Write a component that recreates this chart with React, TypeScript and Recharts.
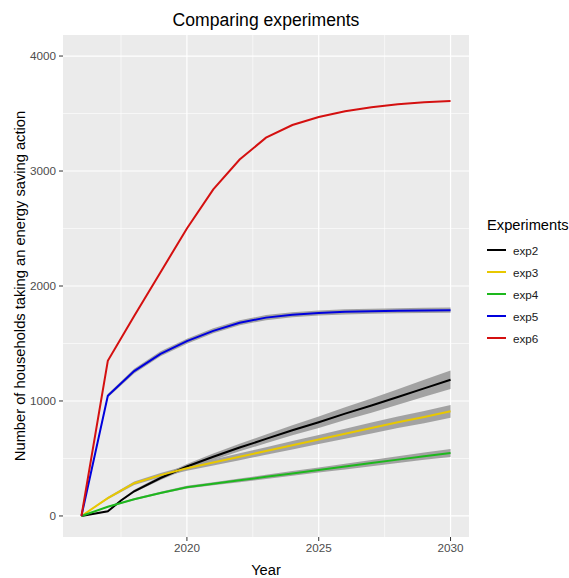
import { Area, CartesianGrid, ComposedChart, Label, Line, XAxis, YAxis } from "recharts";

const years = [2016, 2017, 2017.5, 2018, 2019, 2020, 2021, 2022, 2023, 2024, 2025, 2026, 2027, 2028, 2029, 2030];

const exp2 = [0, 40, 135, 215, 330, 430, 515, 595, 670, 745, 815, 890, 960, 1035, 1110, 1185];
const exp3 = [0, 155, null, 285, 355, 415, 465, 515, 565, 615, 665, 715, 765, 815, 860, 910];
const exp4 = [0, 80, null, 145, 200, 250, 280, 310, 340, 370, 400, 430, 460, 490, 520, 548];
const exp5 = [0, 1045, null, 1260, 1410, 1520, 1610, 1680, 1725, 1750, 1765, 1775, 1780, 1785, 1788, 1790];
const exp6 = [0, 1350, null, 1740, 2120, 2500, 2840, 3100, 3290, 3400, 3470, 3520, 3555, 3580, 3598, 3608];

// half-width of the grey confidence band around each line
const exp2Band = [0, 5, 8, 12, 18, 22, 28, 33, 38, 44, 50, 56, 62, 68, 74, 80];
const exp3Band = [0, 10, null, 15, 18, 22, 26, 30, 33, 37, 40, 44, 47, 50, 53, 56];
const exp4Band = [0, 5, null, 8, 10, 12, 14, 16, 18, 20, 22, 25, 27, 30, 32, 35];
const exp5Band = [0, 15, null, 20, 22, 22, 22, 22, 22, 22, 22, 22, 22, 22, 22, 22];

const xTicks = [2020, 2025, 2030];
const xMinor = [2017.5, 2022.5, 2027.5];
const yTicks = [0, 1000, 2000, 3000, 4000];
const yMinor = [500, 1500, 2500, 3500];

const series = [
  { key: "exp2", values: exp2, band: exp2Band, color: "#000000" },
  { key: "exp3", values: exp3, band: exp3Band, color: "#E8C800" },
  { key: "exp4", values: exp4, band: exp4Band, color: "#1DB81D" },
  { key: "exp5", values: exp5, band: exp5Band, color: "#0000DD" },
  { key: "exp6", values: exp6, band: null as (number | null)[] | null, color: "#D41010" },
];

const data = years.map((year, i) => {
  const row: Record<string, any> = { year };
  series.forEach((s) => {
    const v = s.values[i];
    row[s.key] = v;
    if (s.band && v != null && s.band[i] != null) {
      row[s.key + "Range"] = [v - (s.band[i] as number), v + (s.band[i] as number)];
    }
  });
  return row;
});

const font = '"Liberation Sans", Arial, sans-serif';
const tickStyle = { fill: "#4D4D4D", fontSize: 11.7, fontFamily: font };

export default function App() {
  return (
    <div style={{ position: "absolute", left: 0, top: 0, width: 569, height: 578, background: "#fff", fontFamily: font }}>
      <div
        style={{
          position: "absolute",
          left: 63,
          width: 406,
          top: 9,
          lineHeight: "22px",
          textAlign: "center",
          fontSize: 17.6,
          color: "#000",
        }}
      >
        Comparing experiments
      </div>
      <ComposedChart
        width={569}
        height={578}
        data={data}
        margin={{ top: 35, right: 100, bottom: 0, left: 0 }}
      >
        <CartesianGrid
          fill="#EBEBEB"
          stroke="#FFFFFF"
          strokeWidth={0.6}
          horizontalValues={yMinor}
          verticalValues={xMinor}
        />
        <CartesianGrid stroke="#FFFFFF" strokeWidth={1.2} horizontalValues={yTicks} verticalValues={xTicks} />
        <XAxis
          dataKey="year"
          type="number"
          domain={[2015.3, 2030.7]}
          ticks={xTicks}
          height={41}
          tickSize={4}
          tickMargin={3}
          axisLine={false}
          tickLine={{ stroke: "#333" }}
          tick={tickStyle}
        >
          <Label
            content={({ viewBox }: any) => (
              <text
                x={viewBox.x + viewBox.width / 2}
                y={575}
                textAnchor="middle"
                fontSize={14.7}
                fontFamily={font}
                fill="#000"
              >
                Year
              </text>
            )}
          />
        </XAxis>
        <YAxis
          type="number"
          domain={[-183, 4183]}
          ticks={yTicks}
          width={63}
          tickSize={4}
          tickMargin={3}
          axisLine={false}
          tickLine={{ stroke: "#333" }}
          tick={tickStyle}
        >
          <Label
            content={({ viewBox }: any) => {
              const cy = viewBox.y + viewBox.height / 2;
              return (
                <text
                  x={25}
                  y={cy}
                  transform={`rotate(-90 25 ${cy})`}
                  textAnchor="middle"
                  fontSize={14.7}
                  fontFamily={font}
                  fill="#000"
                >
                  Number of households taking an energy saving action
                </text>
              );
            }}
          />
        </YAxis>
        {series
          .filter((s) => s.band)
          .map((s) => (
            <Area
              key={s.key + "Range"}
              dataKey={s.key + "Range"}
              type="linear"
              stroke="none"
              fill="#9A9A9A"
              fillOpacity={0.9}
              connectNulls
              isAnimationActive={false}
            />
          ))}
        {series.map((s) => (
          <Line
            key={s.key}
            dataKey={s.key}
            type="linear"
            stroke={s.color}
            strokeWidth={2}
            dot={false}
            connectNulls
            isAnimationActive={false}
          />
        ))}
      </ComposedChart>
      <div style={{ position: "absolute", left: 487, top: 214 }}>
        <div style={{ fontSize: 14.7, lineHeight: "22px", color: "#000" }}>Experiments</div>
        <div style={{ marginTop: 3 }}>
          {series.map((s) => (
            <div key={s.key} style={{ display: "flex", alignItems: "center", height: 22 }}>
              <div style={{ width: 19, height: 2, background: s.color, marginRight: 7 }} />
              <span style={{ fontSize: 11.7, color: "#1A1A1A" }}>{s.key}</span>
            </div>
          ))}
        </div>
      </div>
    </div>
  );
}
